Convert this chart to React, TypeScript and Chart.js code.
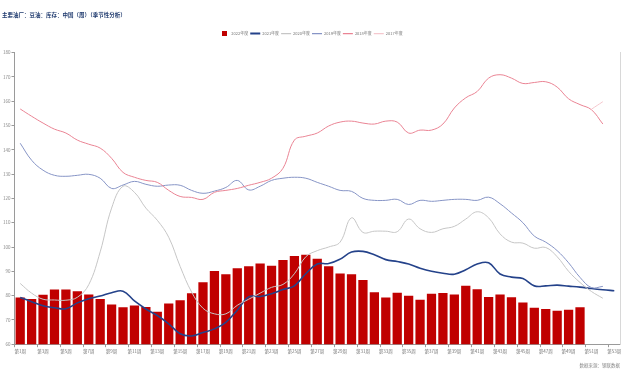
import React, { useEffect, useRef } from "react";
import { Chart, registerables } from "chart.js";

Chart.register(...registerables);

const FONT = "'Noto Sans CJK SC', 'Noto Sans', sans-serif";

const titleText = "主要油厂：豆油：库存：中国（周）（季节性分析）";
const sourceText = "数据来源：钢联数据";

const weeks = [
  "第1周", "第2周", "第3周", "第4周", "第5周", "第6周", "第7周", "第8周", "第9周", "第10周",
  "第11周", "第12周", "第13周", "第14周", "第15周", "第16周", "第17周", "第18周", "第19周", "第20周",
  "第21周", "第22周", "第23周", "第24周", "第25周", "第26周", "第27周", "第28周", "第29周", "第30周",
  "第31周", "第32周", "第33周", "第34周", "第35周", "第36周", "第37周", "第38周", "第39周", "第40周",
  "第41周", "第42周", "第43周", "第44周", "第45周", "第46周", "第47周", "第48周", "第49周", "第50周",
  "第51周", "第52周", "第53周",
];

const seriesNames = ["2022年度", "2021年度", "2020年度", "2019年度", "2018年度", "2017年度"];

const y2022 = [
  79.2, 78.6, 80.3, 82.5, 82.5, 81.8, 80.5, 78.6, 76.3, 75.2,
  75.9, 75.3, 73.4, 76.7, 78.1, 81.0, 85.5, 90.1, 88.8, 91.3,
  92.1, 93.2, 92.3, 94.6, 96.3, 96.8, 95.2, 92.1, 89.1, 88.8,
  86.4, 81.4, 79.2, 81.2, 79.9, 78.3, 80.8, 81.1, 80.5, 84.1,
  82.6, 79.4, 80.5, 79.3, 77.2, 75.0, 74.5, 73.8, 74.2, 75.2,
];

const y2021 = [
  79.2, 77.5, 75.8, 75.0, 74.6, 77.0, 78.7, 79.8, 81.2, 81.8,
  77.8, 74.5, 71.8, 68.4, 64.3, 63.4, 64.8, 66.3, 69.0, 74.0,
  79.5, 79.6, 80.8, 82.5, 84.0, 89.0, 93.0, 93.2, 95.0, 97.9,
  98.2, 96.8, 94.8, 94.0, 93.0, 91.3, 90.0, 89.2, 88.8, 90.6,
  93.0, 93.5, 88.9, 87.6, 87.0, 84.0, 84.0, 84.3, 83.9, 83.5,
  82.9, 82.4, 82.0,
];

const y2020 = [
  85.0, 81.0, 78.5, 78.2, 78.1, 79.3, 84.5, 98.0, 116.0, 125.0,
  122.5, 116.0, 111.0, 104.0, 92.0, 81.5, 74.8, 72.5, 72.5, 76.0,
  78.5, 81.0, 83.4, 84.6, 89.0, 96.0, 98.5, 100.0, 102.0, 112.0,
  106.0, 106.5, 106.5, 106.3, 111.5, 107.5, 106.0, 107.5, 108.5, 111.5,
  114.5, 112.0, 105.4, 102.0, 101.6, 99.5, 99.8, 96.0, 90.0, 85.4,
  81.7, 78.9,
];

const y2019 = [
  142.7, 135.7, 131.6, 129.5, 129.1, 129.5, 129.9, 128.3, 124.1, 125.5,
  127.0, 125.8, 125.0, 125.5, 125.4, 123.3, 122.1, 123.0, 124.5, 127.4,
  123.5, 125.0, 127.4, 128.3, 128.7, 128.3, 126.6, 125.0, 123.3, 122.9,
  120.0, 119.2, 119.2, 119.6, 117.5, 119.2, 118.8, 119.2, 119.6, 119.6,
  119.2, 120.5, 117.8, 114.0, 110.0, 104.5, 102.0, 98.5, 93.5, 87.5,
  83.3, 83.8,
];

const y2018 = [
  156.8, 153.8, 151.0, 148.5, 146.9, 144.0, 142.3, 140.7, 136.5, 130.7,
  128.7, 127.4, 126.6, 123.3, 120.8, 120.4, 119.6, 122.5, 123.3, 124.1,
  125.4, 126.6, 128.3, 132.4, 144.0, 145.6, 146.9, 149.8, 151.4, 151.8,
  151.0, 150.6, 151.8, 151.4, 146.9, 148.1, 148.1, 150.6, 157.2, 161.4,
  164.0, 169.5, 170.9, 169.5, 167.3, 167.7, 168.0, 165.8, 161.0, 158.6,
  156.5, 150.6,
];

const y2017 = [
  null, null, null, null, null, null, null, null, null, null,
  null, null, null, null, null, null, null, null, null, null,
  null, null, null, null, null, null, null, null, null, null,
  null, null, null, null, null, null, null, null, null, null,
  null, null, null, null, null, null, null, null, null, null,
  156.7, 159.8,
];

const yMin = 60;
const yMax = 180;
const yStep = 10;

const colors = ["#c00000", "#24428a", "#c6c6c6", "#8795c6", "#ea8494", "#f5c8ce"];

// extra space between the legend row and the plot
const legendGap = {
  id: "legendGap",
  beforeInit(chart: any) {
    const legend = chart.legend;
    if (!legend) return;
    const fit = legend.fit;
    legend.fit = function () {
      fit.call(this);
      this.height += 7;
    };
  },
};

export default function App() {
  const canvasRef = useRef<HTMLCanvasElement | null>(null);

  useEffect(() => {
    const canvas = canvasRef.current;
    if (!canvas) return;

    // small filled square used as the legend marker of the bar series
    const square = document.createElement("canvas");
    square.width = 5;
    square.height = 5;
    const sctx = square.getContext("2d");
    if (sctx) {
      sctx.fillStyle = colors[0];
      sctx.fillRect(0, 0, 5, 5);
    }

    const lineSeries = [y2021, y2020, y2019, y2018, y2017];
    const lineWidths = [1.6, 1, 1, 1, 1];

    const chart = new Chart(canvas, {
      type: "bar",
      plugins: [legendGap],
      data: {
        labels: weeks,
        datasets: [
          {
            type: "bar",
            label: seriesNames[0],
            data: y2022,
            backgroundColor: colors[0],
            categoryPercentage: 0.9,
            barPercentage: 0.9,
            order: 10,
          } as any,
          ...lineSeries.map((d, i) => ({
            type: "line",
            label: seriesNames[i + 1],
            data: d,
            borderColor: colors[i + 1],
            backgroundColor: colors[i + 1],
            borderWidth: lineWidths[i],
            pointRadius: 0,
            tension: 0.4,
            fill: false,
            spanGaps: false,
            order: 5 - i,
          })),
        ],
      },
      options: {
        responsive: false,
        animation: false,
        layout: { padding: { left: 2, right: 16, top: 0, bottom: 0 } },
        plugins: {
          tooltip: { enabled: false },
          title: {
            display: true,
            text: titleText,
            align: "start",
            color: "#1f3a6e",
            font: { family: FONT, size: 5.5, weight: "bold" },
            padding: { top: 12, bottom: 11 },
          },
          subtitle: {
            display: true,
            text: sourceText,
            position: "bottom",
            align: "end",
            color: "#888",
            font: { family: FONT, size: 4.5 },
            padding: { top: 8, bottom: 3 },
          },
          legend: {
            display: true,
            position: "top",
            labels: {
              usePointStyle: true,
              pointStyleWidth: 10,
              boxHeight: 4,
              padding: 2,
              color: "#777",
              font: { family: FONT, size: 4 },
              sort: (a: any, b: any) => a.datasetIndex - b.datasetIndex,
              generateLabels: (ch: any) => {
                const items = Chart.defaults.plugins.legend.labels.generateLabels(ch);
                return items.map((it: any) => {
                  const idx = it.datasetIndex;
                  if (idx === 0) {
                    return { ...it, pointStyle: square, lineWidth: 0 };
                  }
                  return {
                    ...it,
                    pointStyle: "line",
                    strokeStyle: colors[idx],
                    lineWidth: lineWidths[idx - 1] + 0.4,
                  };
                });
              },
            },
          },
        },
        scales: {
          x: {
            offset: true,
            grid: {
              display: true,
              drawOnChartArea: false,
              drawTicks: true,
              tickLength: 3,
              offset: true,
              color: (ctx: any) => (ctx.index % 2 === 0 ? "#9a9a9a" : "rgba(0,0,0,0)"),
            },
            border: { display: true, color: "#9a9a9a" },
            ticks: {
              autoSkip: false,
              maxRotation: 0,
              minRotation: 0,
              padding: 1,
              color: "#777",
              font: { family: FONT, size: 4.5 },
              callback: (_v: any, i: number) => (i % 2 === 0 ? weeks[i] : ""),
            },
          },
          y: {
            min: yMin,
            max: yMax,
            position: "left",
            grid: {
              display: true,
              drawOnChartArea: false,
              drawTicks: true,
              tickLength: 3,
              color: "#9a9a9a",
            },
            border: { display: true, color: "#9a9a9a" },
            ticks: {
              stepSize: yStep,
              padding: 1,
              color: "#888",
              font: { family: FONT, size: 4.5 },
            },
          },
          y2: {
            min: yMin,
            max: yMax,
            position: "right",
            grid: { display: false, drawTicks: false },
            border: { display: true, color: "#d8d8d8" },
            ticks: { display: false },
          },
        },
      },
    });

    return () => chart.destroy();
  }, []);

  return (
    <div style={{ position: "fixed", left: 0, top: 0, width: 636, height: 371, background: "#fff" }}>
      <canvas ref={canvasRef} width={636} height={371} style={{ display: "block", width: 636, height: 371 }} />
    </div>
  );
}
